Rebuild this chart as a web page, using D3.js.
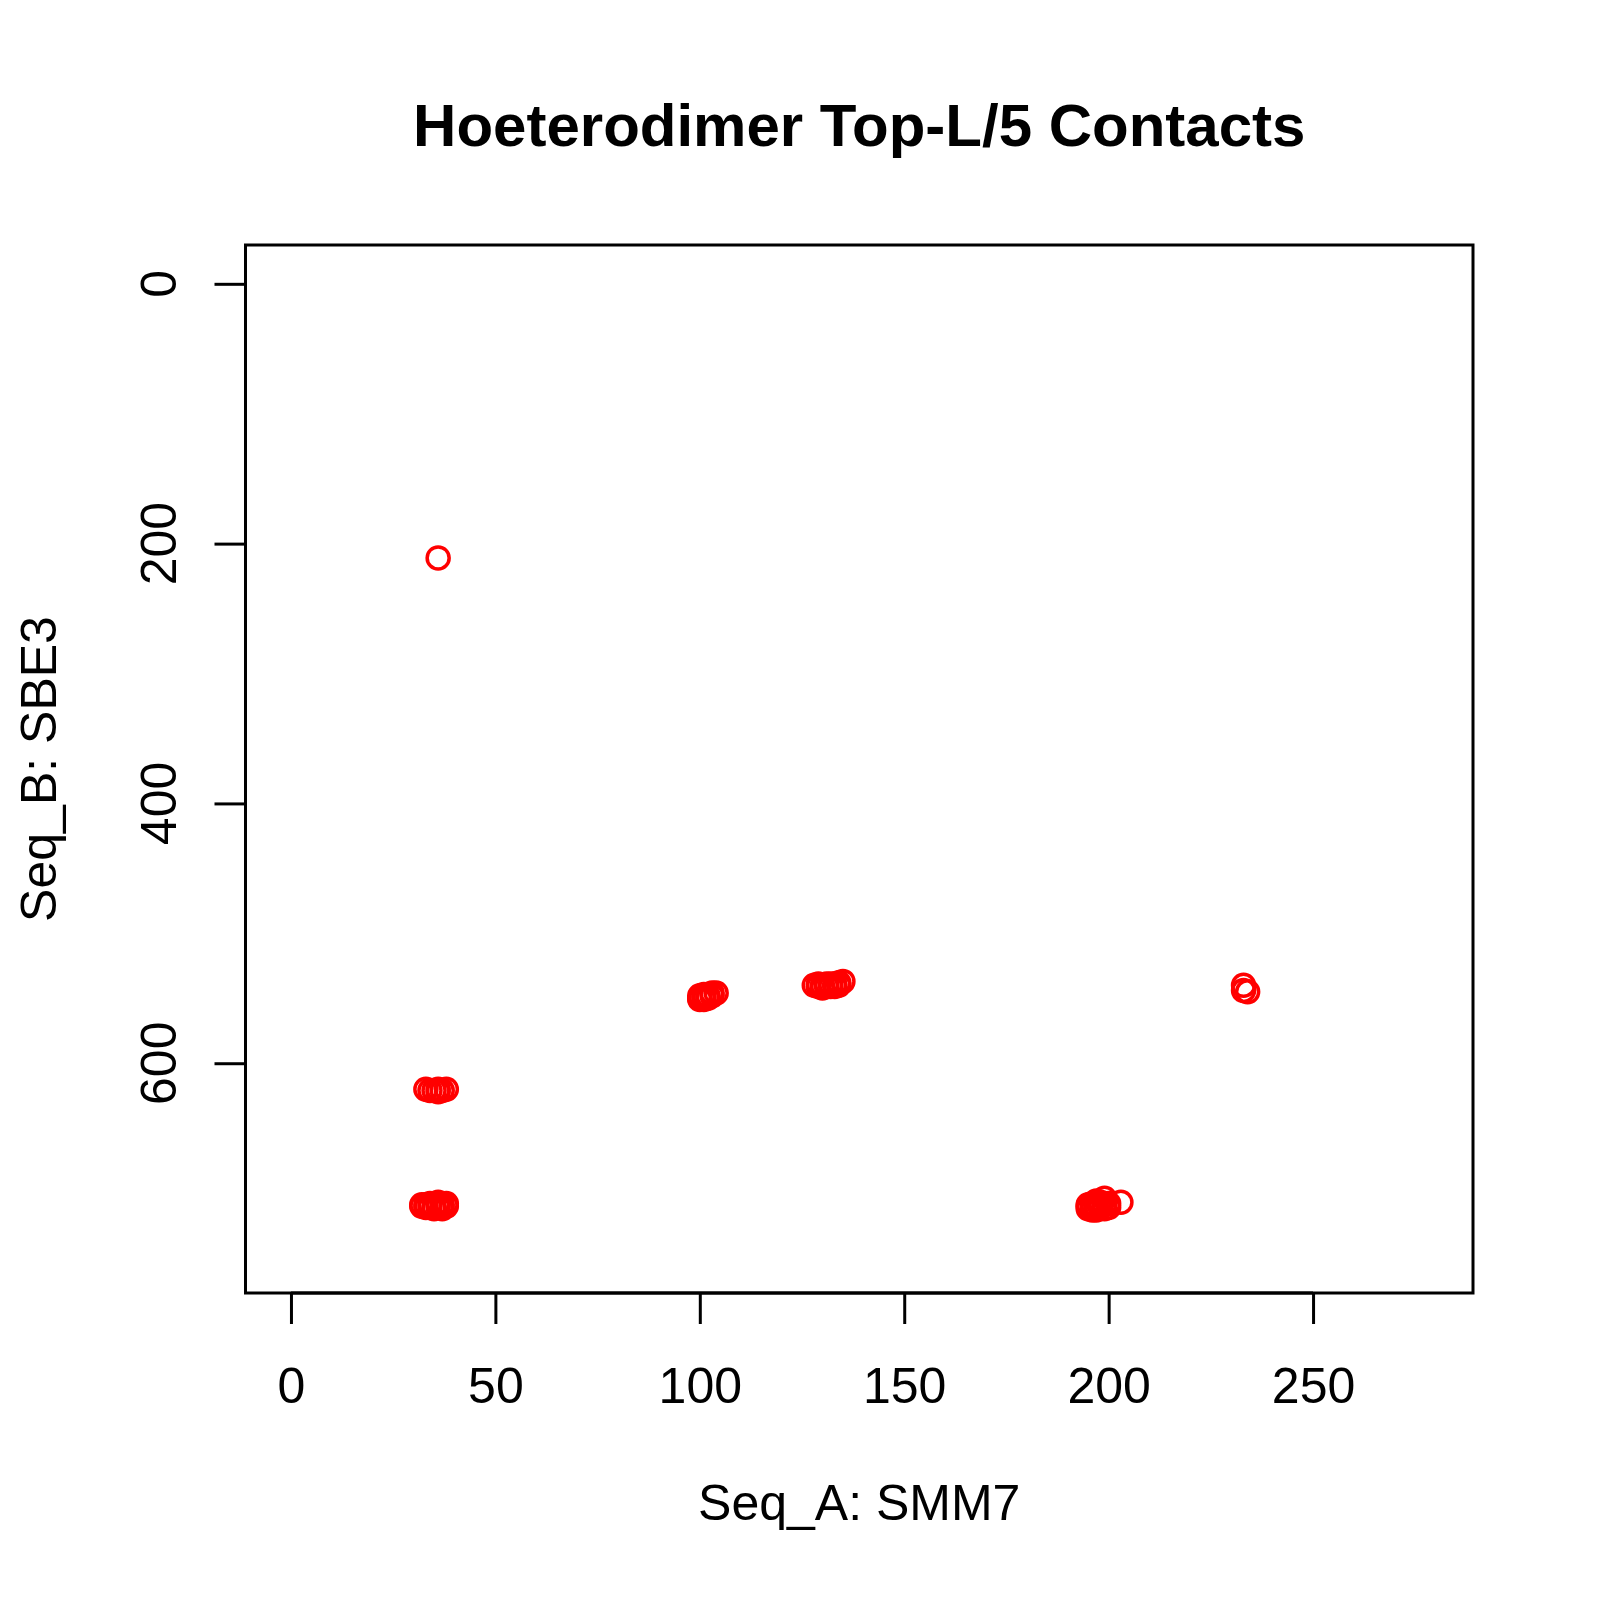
<!DOCTYPE html>
<html>
<head>
<meta charset="utf-8">
<script src="https://cdn.jsdelivr.net/npm/d3@7"></script>
<style>
  body { margin: 0; background: #fff; }
  svg { font-family: "Liberation Sans", Arial, sans-serif; }
</style>
</head>
<body>
<svg id="chart"></svg>
<script>
// contact positions: residue index on Seq_A (x) and Seq_B (y)
const seqA = [36,
  33, 35, 36, 36, 37, 38, 34,
  32, 33, 34, 34, 35, 36, 36, 37, 38, 33, 35, 37, 32, 38, 36,
  100, 100, 101, 101, 102, 103, 104, 100, 101, 102, 103, 102,
  128, 129, 130, 131, 132, 133, 134, 135, 129, 130, 131, 132, 133, 134,
  195, 195, 196, 197, 197, 198, 198, 199, 199, 200, 203, 196, 196, 197, 198, 199, 195, 200,
  233, 234, 233];
const seqB = [211,
  620, 621, 622, 620, 621, 620, 621,
  710, 709, 708, 711, 710, 707, 711, 709, 710, 711, 712, 712, 709, 708, 709,
  551, 548, 549, 547, 548, 546, 546, 550, 551, 550, 548, 549,
  540, 541, 540, 541, 539, 539, 538, 537, 539, 542, 539, 541, 541, 540,
  709, 712, 708, 710, 713, 707, 711, 704, 712, 708, 707, 711, 713, 706, 709, 709, 710, 711,
  540, 545, 544];
const xTicks = [0, 50, 100, 150, 200, 250];
const yTicks = [0, 200, 400, 600];
const xLim = [0, 278];
const yLim = [0, 747];

const width = 1600, height = 1600;
const margin = { top: 245, right: 127, bottom: 307, left: 245.5 };
const svg = d3.select("#chart").attr("width", width).attr("height", height);

// R style 4% axis expansion
const pad = (lim) => { const r = lim[1] - lim[0]; return [lim[0] - 0.04 * r, lim[1] + 0.04 * r]; };
const x = d3.scaleLinear().domain(pad(xLim)).range([margin.left, width - margin.right]);
const y = d3.scaleLinear().domain(pad(yLim)).range([margin.top, height - margin.bottom]);

const lw = 3;

// points
svg.append("g").selectAll("circle")
  .data(seqA.map((a, i) => ({ a, b: seqB[i] })))
  .enter().append("circle")
  .attr("cx", d => x(d.a))
  .attr("cy", d => y(d.b))
  .attr("r", 11)
  .attr("fill", "none")
  .attr("stroke", "#ff0000")
  .attr("stroke-width", 3.5);

// box
svg.append("rect")
  .attr("x", margin.left).attr("y", margin.top)
  .attr("width", width - margin.right - margin.left)
  .attr("height", height - margin.bottom - margin.top)
  .attr("fill", "none").attr("stroke", "#000").attr("stroke-width", lw);

// x axis
const xAxis = d3.axisBottom(x).tickValues(xTicks).tickSize(31).tickPadding(43);
const gx = svg.append("g")
  .attr("transform", `translate(0, ${height - margin.bottom})`)
  .call(xAxis);
gx.select(".domain").attr("d", `M${x(xTicks[0])},0H${x(xTicks[xTicks.length - 1])}`);
gx.selectAll("line, path").attr("stroke", "#000").attr("stroke-width", lw);
gx.selectAll("text").attr("font-size", 50).attr("fill", "#000")
  .attr("font-family", "Liberation Sans, Arial, sans-serif");

// y axis, rotated labels as in R
const yAxis = d3.axisLeft(y).tickValues(yTicks).tickSize(31).tickFormat("");
const gy = svg.append("g")
  .attr("transform", `translate(${margin.left}, 0)`)
  .call(yAxis);
gy.select(".domain").attr("d", `M0,${y(yTicks[0])}V${y(yTicks[yTicks.length - 1])}`);
gy.selectAll("line, path").attr("stroke", "#000").attr("stroke-width", lw);
svg.append("g").selectAll("text")
  .data(yTicks)
  .enter().append("text")
  .attr("transform", d => `translate(176, ${y(d)}) rotate(-90)`)
  .attr("text-anchor", "middle")
  .attr("font-size", 50)
  .text(d => d);

// title and axis labels
svg.append("text")
  .attr("x", (margin.left + width - margin.right) / 2)
  .attr("y", 146)
  .attr("text-anchor", "middle")
  .attr("font-size", 60)
  .attr("font-weight", "bold")
  .text("Hoeterodimer Top-L/5 Contacts");

svg.append("text")
  .attr("x", (margin.left + width - margin.right) / 2)
  .attr("y", 1520)
  .attr("text-anchor", "middle")
  .attr("font-size", 50)
  .text("Seq_A: SMM7");

svg.append("text")
  .attr("transform", `translate(56, ${(margin.top + height - margin.bottom) / 2}) rotate(-90)`)
  .attr("text-anchor", "middle")
  .attr("font-size", 50)
  .text("Seq_B: SBE3");
</script>
</body>
</html>
